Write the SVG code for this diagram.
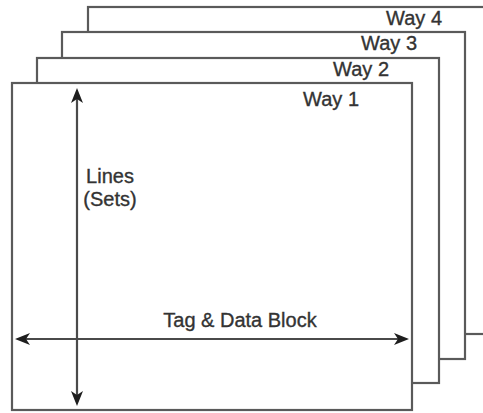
<svg xmlns="http://www.w3.org/2000/svg" width="483" height="413" viewBox="0 0 483 413">
<style>
.way{fill:#fff;stroke:#5a5a5a;stroke-width:2.2}
.lbl{font-family:"Liberation Sans",Arial,sans-serif;font-size:20px;fill:#333;stroke:#333;stroke-width:0.35}
.arr{stroke:#4a4a4a;stroke-width:2.2;fill:none}
</style>
<defs>
<marker id="ah" markerUnits="userSpaceOnUse" markerWidth="15" markerHeight="13" refX="4" refY="6.5" orient="auto-start-reverse" viewBox="0 0 15 13">
<path d="M0,0.5 L15,6.5 L0,12.5 L4,6.5 Z" fill="#1e1e1e"/>
</marker>
</defs>
<rect width="483" height="413" fill="#fff"/>
<g id="way4"><rect class="way" x="88" y="7" width="410" height="327"/><text class="lbl" x="442" y="25" text-anchor="end">Way 4</text></g>
<g id="way3"><rect class="way" x="62" y="32" width="403" height="327"/><text class="lbl" x="417" y="50" text-anchor="end">Way 3</text></g>
<g id="way2"><rect class="way" x="37" y="58" width="402" height="325"/><text class="lbl" x="389" y="76" text-anchor="end">Way 2</text></g>
<g id="way1"><rect class="way" x="12" y="83" width="400" height="327"/><text class="lbl" x="359" y="106" text-anchor="end">Way 1</text></g>
<g id="connectors">
<line class="arr" x1="77" y1="99" x2="77" y2="395" marker-start="url(#ah)" marker-end="url(#ah)"/>
<line class="arr" x1="26" y1="339" x2="398" y2="339" marker-start="url(#ah)" marker-end="url(#ah)"/>
</g>
<g id="labels">
<text class="lbl" x="110" y="183" text-anchor="middle">Lines</text>
<text class="lbl" x="110" y="206" text-anchor="middle">(Sets)</text>
<text class="lbl" x="240" y="327" text-anchor="middle">Tag &amp; Data Block</text>
</g>
</svg>
